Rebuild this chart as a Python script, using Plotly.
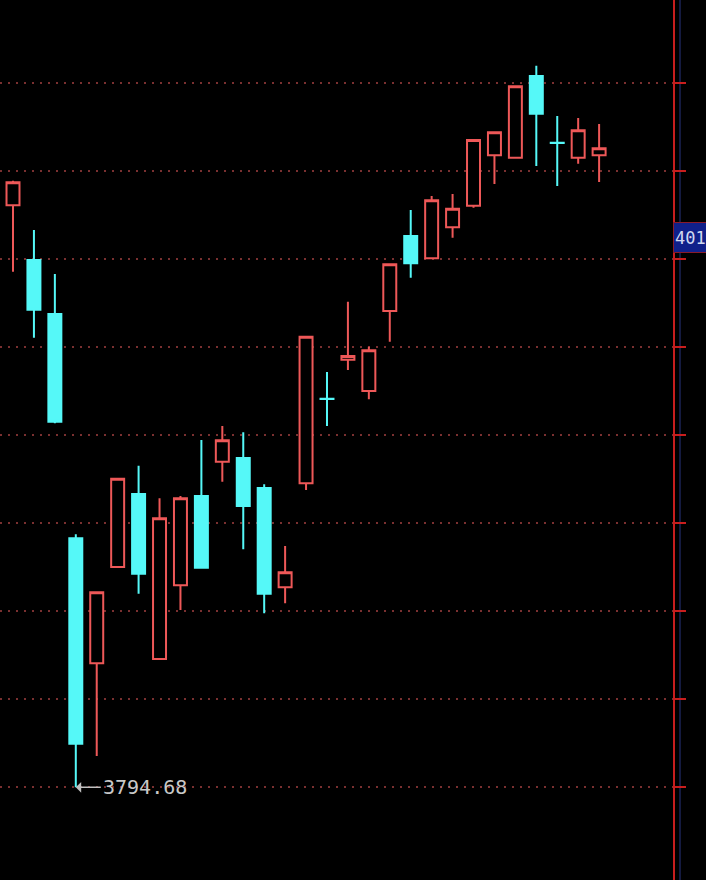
import plotly.graph_objects as go

# ---- data ----
idx = list(range(29))
opens = [4026.42, 4004.64, 3983.14, 3893.83, 3844.06, 3882.40, 3911.47, 3845.77, 3875.11, 3910.67,
         3924.33, 3925.80, 3913.86, 3874.32, 3915.73, 3949.42, 3964.94, 3952.48, 3984.34, 4014.20,
         4005.32, 4017.66, 4026.26, 4046.33, 4045.38, 4077.91, 4051.35, 4045.38, 4046.33]
highs = [4036.22, 4016.59, 3999.07, 3895.42, 3872.60, 3917.80, 3922.74, 3909.76, 3910.67, 3932.97,
         3938.54, 3936.04, 3915.33, 3890.76, 3974.30, 3960.05, 3988.04, 3970.12, 4003.10, 4024.55,
         4030.13, 4030.92, 4052.60, 4055.70, 4074.00, 4082.01, 4061.98, 4061.18, 4058.79]
lows = [3999.98, 3973.70, 3939.62, 3794.68, 3807.14, 3882.20, 3871.77, 3845.50, 3865.28, 3882.00,
        3916.37, 3889.45, 3863.96, 3867.95, 3913.06, 3938.54, 3960.84, 3949.18, 3972.11, 3997.59,
        4004.92, 4013.52, 4025.47, 4034.90, 4045.20, 4042.07, 4034.11, 4042.99, 4035.70]
closes = [4035.58, 3984.85, 3940.26, 3812.04, 3872.33, 3917.56, 3879.73, 3901.79, 3909.76, 3882.12,
          3932.85, 3906.69, 3871.77, 3880.29, 3974.10, 3949.32, 3966.42, 3968.69, 4002.93, 4003.33,
          4028.41, 4025.07, 4052.42, 4055.49, 4073.81, 4062.90, 4051.25, 4056.29, 4049.12]

grid_levels = [3795, 3830, 3865, 3900, 3935, 3970, 4005, 4040, 4075]
low_label = "3794.68"
low_index = 3
low_value = 3794.68
last_price_label = "401"
last_price_value = 4013.48

RED = "#ee5858"
CYAN = "#55f8f8"
AXIS_RED = "#c81e1e"

fig = go.Figure()
fig.add_trace(go.Candlestick(
    x=idx, open=opens, high=highs, low=lows, close=closes,
    increasing=dict(line=dict(color=RED, width=2), fillcolor="#000000"),
    decreasing=dict(line=dict(color=CYAN, width=2), fillcolor=CYAN),
    whiskerwidth=0, showlegend=False, hoverinfo="skip",
))

fig.add_annotation(
    x=low_index, y=low_value, xref="x", yref="y",
    text=low_label, showarrow=True, ax=25, ay=0,
    xanchor="left", yanchor="middle",
    arrowhead=1, arrowsize=1.2, arrowwidth=1.5, arrowcolor="#c0c0c0",
    font=dict(family="DejaVu Sans Mono", size=20, color="#c8c8c8"),
)

fig.add_annotation(
    x=1, y=last_price_value, xref="paper", yref="y",
    text=last_price_label, showarrow=False,
    xanchor="left", yanchor="middle", align="left",
    width=40, height=27, borderpad=1, borderwidth=1,
    bgcolor="#10208a", bordercolor="#8a1a2a",
    font=dict(family="DejaVu Sans Mono", size=17, color="#d0d8f0"),
)

fig.add_shape(type="line", xref="paper", yref="paper",
              x0=680/673, x1=680/673, y0=0, y1=1,
              line=dict(color="#141a40", width=2), layer="below")

fig.update_layout(
    width=706, height=880,
    margin=dict(l=0, r=33, t=0, b=0),
    paper_bgcolor="#000000", plot_bgcolor="#000000",
    boxgap=0.38, boxgroupgap=0,
    xaxis=dict(range=[-0.621, 31.53], visible=False, rangeslider=dict(visible=False),
               showgrid=False, zeroline=False),
    yaxis=dict(range=[3757.77, 4108.17], side="right",
               tickvals=grid_levels, showticklabels=False,
               ticks="outside", ticklen=11, tickwidth=2, tickcolor=AXIS_RED,
               showline=True, linecolor=AXIS_RED, linewidth=2,
               showgrid=True, gridcolor="#7a3030", gridwidth=2, griddash="2px,6px",
               zeroline=False),
)

fig.write_html(
    "out.html",
    config={"displayModeBar": False},
    post_script="document.body.style.margin='0';document.body.style.background='#000';"
                "document.body.style.overflow='hidden';",
)
